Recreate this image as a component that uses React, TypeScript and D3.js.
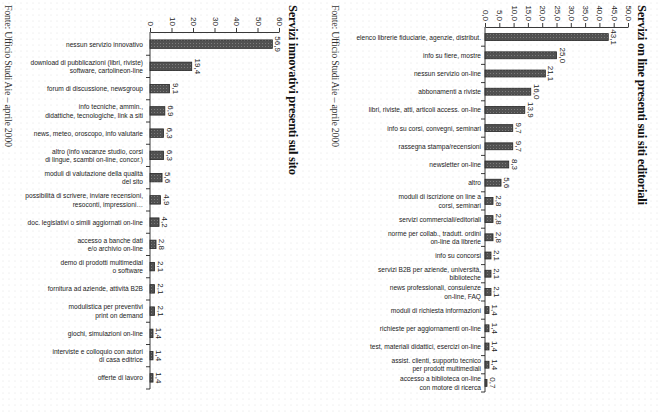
import React, { useRef, useEffect } from "react";
import * as d3 from "d3";

// --- data ---
const sourceText = "Fonte: Ufficio Studi Aie \u2013 aprile 2000";

const leftTitle = "Servizi innovativi presenti sul sito";
const leftCategories = [
  "nessun servizio innovativo",
  "download di pubblicazioni (libri, riviste)\nsoftware, cartolineon-line",
  "forum di discussione, newsgroup",
  "info tecniche, ammin.,\ndidattiche, tecnologiche, link a siti",
  "news, meteo, oroscopo, info valutarie",
  "altro (info vacanze studio, corsi\ndi lingue, scambi on-line, concor.)",
  "moduli di valutazione della qualità\ndel sito",
  "possibilità di scrivere, inviare recensioni,\nresoconti, impressioni\u2026",
  "doc. legislativi o simili aggiornati on-line",
  "accesso a banche dati\ne/o archivio on-line",
  "demo di prodotti multimedial\no software",
  "fornitura ad aziende, attività B2B",
  "modulistica per preventivi\nprint on demand",
  "giochi, simulazioni on-line",
  "interviste e colloquio con autori\ndi casa editrice",
  "offerte di lavoro",
];
const leftValues = [56.9, 19.4, 9.1, 6.9, 6.3, 6.3, 5.6, 4.9, 4.2, 2.8, 2.1, 2.1, 2.1, 1.4, 1.4, 1.4];
const leftTicks = [0, 10, 20, 30, 40, 50, 60];

const rightTitle = "Servizi on line presenti sui siti editoriali";
const rightCategories = [
  "elenco librerie fiduciarie, agenzie, distribut.",
  "info su fiere, mostre",
  "nessun servizio on-line",
  "abbonamenti a riviste",
  "libri, riviste, atti, articoli access. on-line",
  "info su corsi, convegni, seminari",
  "rassegna stampa/recensioni",
  "newsletter on-line",
  "altro",
  "moduli di iscrizione on line a\ncorsi, seminari",
  "servizi commerciali/editoriali",
  "norme per collab., tradutt. ordini\non-line da librerie",
  "info su concorsi",
  "servizi B2B per aziende, università,\nbiblioteche",
  "news professionali, consulenze\non-line, FAQ",
  "moduli di richiesta informazioni",
  "richieste per aggiornamenti on-line",
  "test, materiali didattici, esercizi on-line",
  "assist. clienti, supporto tecnico\nper prodott multimediali",
  "accesso a biblioteca on-line\ncon motore di ricerca",
];
const rightValues = [43.1, 25.0, 21.1, 16.0, 13.9, 9.7, 9.7, 8.3, 5.6, 2.8, 2.8, 2.8, 2.1, 2.1, 2.1, 1.4, 1.4, 1.4, 1.4, 0.7];
const rightTicks = [0, 5, 10, 15, 20, 25, 30, 35, 40, 45, 50];

const W = 659;
const H = 416;

const it = d3.formatLocale({ decimal: ",", thousands: ".", grouping: [3], currency: ["", " €"] });
const fmt1 = it.format(".1f");
const fmt0 = it.format("d");

interface Layout {
  x0: number;
  x1: number;
  axisY: number;
  bandTop: number;
  bandBottom: number;
  titleX: number;
  titleLen: number;
  sourceX: number;
  labelGap: number;
  lineH: number;
}

function drawChart(
  root: d3.Selection<SVGGElement, unknown, null, undefined>,
  title: string,
  cats: string[],
  values: number[],
  ticks: number[],
  tickFmt: (n: number) => string,
  L: Layout
) {
  const x = d3.scaleLinear().domain([ticks[0], ticks[ticks.length - 1]]).range([L.x0, L.x1]);
  const y = d3
    .scaleBand<number>()
    .domain(d3.range(cats.length))
    .range([L.bandTop, L.bandBottom])
    .paddingInner(0.62)
    .paddingOuter(0.31);

  const g = root.append("g");

  // top value axis, labels turned like the rest of the page
  const ax = g
    .append("g")
    .attr("transform", `translate(0,${L.axisY})`)
    .call(
      d3.axisTop(x).tickValues(ticks).tickSize(4).tickSizeOuter(0).tickFormat((d) => tickFmt(d as number))
    );
  ax.select(".domain").attr("stroke", "#222").attr("stroke-width", 0.9);
  ax.selectAll(".tick line").attr("stroke", "#222").attr("stroke-width", 0.9);
  ax.selectAll<SVGTextElement, number>(".tick text")
    .attr("y", null)
    .attr("dy", null)
    .attr("transform", "translate(0,-6) rotate(90)")
    .attr("text-anchor", "end")
    .attr("dominant-baseline", "central")
    .attr("font-family", "'Liberation Sans', Arial, sans-serif")
    .attr("font-size", 8)
    .attr("fill", "#222");

  // category axis
  g.append("line")
    .attr("x1", L.x0)
    .attr("x2", L.x0)
    .attr("y1", L.axisY)
    .attr("y2", L.bandBottom)
    .attr("stroke", "#222")
    .attr("stroke-width", 0.9);

  const step = y.step();
  g.selectAll("line.ctick")
    .data(d3.range(1, cats.length + 1))
    .join("line")
    .attr("class", "ctick")
    .attr("x1", L.x0 - 4)
    .attr("x2", L.x0)
    .attr("y1", (i) => L.bandTop + step * i)
    .attr("y2", (i) => L.bandTop + step * i)
    .attr("stroke", "#222")
    .attr("stroke-width", 0.9);

  // bars
  g.selectAll("rect.bar")
    .data(values)
    .join("rect")
    .attr("class", "bar")
    .attr("x", x(0))
    .attr("y", (_, i) => y(i)!)
    .attr("width", (d) => x(d) - x(0))
    .attr("height", y.bandwidth())
    .attr("fill", "url(#barPat)")
    .attr("stroke", "#262626")
    .attr("stroke-width", 0.8);

  // value labels
  g.selectAll("text.val")
    .data(values)
    .join("text")
    .attr("class", "val")
    .attr("transform", (d, i) => `translate(${x(d) + 3},${y(i)! + y.bandwidth() / 2}) rotate(90)`)
    .attr("text-anchor", "middle")
    .attr("font-family", "'Liberation Sans', Arial, sans-serif")
    .attr("font-size", 8)
    .attr("fill", "#222")
    .text((d) => fmt1(d));

  // category labels (horizontal)
  const lab = g
    .selectAll("text.cat")
    .data(cats)
    .join("text")
    .attr("class", "cat")
    .attr("text-anchor", "end")
    .attr("font-family", "'Liberation Sans', Arial, sans-serif")
    .attr("font-size", 6.6)
    .attr("fill", "#222");
  lab.each(function (d, i) {
    const lines = d.split("\n");
    const cy = y(i)! + y.bandwidth() / 2;
    const first = cy - ((lines.length - 1) * L.lineH) / 2;
    d3.select(this)
      .selectAll("tspan")
      .data(lines)
      .join("tspan")
      .attr("x", L.x0 - L.labelGap)
      .attr("y", (_, k) => first + k * L.lineH)
      .attr("dominant-baseline", "central")
      .text((t) => t);
  });

  // title and source, turned 90 degrees
  g.append("text")
    .attr("transform", `translate(${L.titleX},5) rotate(90)`)
    .attr("dominant-baseline", "central")
    .attr("font-family", "'Liberation Serif', 'Times New Roman', serif")
    .attr("font-weight", "bold")
    .attr("font-size", 12.5)
    .attr("fill", "#111")
    .attr("textLength", L.titleLen)
    .attr("lengthAdjust", "spacing")
    .text(title);

  g.append("text")
    .attr("transform", `translate(${L.sourceX},5) rotate(90)`)
    .attr("dominant-baseline", "central")
    .attr("font-family", "'Liberation Serif', 'Times New Roman', serif")
    .attr("font-size", 10)
    .attr("fill", "#333")
    .attr("textLength", 142)
    .attr("lengthAdjust", "spacing")
    .text(sourceText);
}

export default function App() {
  const svgRef = useRef<SVGSVGElement>(null);

  useEffect(() => {
    if (!svgRef.current) return;
    const svg = d3.select(svgRef.current);
    svg.selectAll("*").remove();

    const defs = svg.append("defs");
    const bg = defs
      .append("pattern")
      .attr("id", "bgDots")
      .attr("width", 6)
      .attr("height", 6)
      .attr("patternUnits", "userSpaceOnUse");
    bg.append("rect").attr("width", 6).attr("height", 6).attr("fill", "#fff");
    bg.append("circle").attr("cx", 3).attr("cy", 3).attr("r", 0.5).attr("fill", "#dedede");

    const bp = defs
      .append("pattern")
      .attr("id", "barPat")
      .attr("width", 3)
      .attr("height", 3)
      .attr("patternUnits", "userSpaceOnUse");
    bp.append("rect").attr("width", 3).attr("height", 3).attr("fill", "#515151");
    bp.append("rect").attr("x", 1).attr("y", 1).attr("width", 1).attr("height", 1).attr("fill", "#7c7c7c");

    svg.append("rect").attr("width", W).attr("height", H).attr("fill", "url(#bgDots)");

    const root = svg.append("g");

    drawChart(root, leftTitle, leftCategories, leftValues, leftTicks, (n) => fmt0(n), {
      x0: 150,
      x1: 279,
      axisY: 32,
      bandTop: 33,
      bandBottom: 389,
      titleX: 293,
      titleLen: 170,
      sourceX: 8,
      labelGap: 7,
      lineH: 8.6,
    });

    drawChart(root, rightTitle, rightCategories, rightValues, rightTicks, (n) => fmt1(n), {
      x0: 485,
      x1: 628,
      axisY: 27,
      bandTop: 28,
      bandBottom: 392,
      titleX: 642,
      titleLen: 200,
      sourceX: 335,
      labelGap: 4,
      lineH: 8.3,
    });
  }, []);

  return (
    <>
      <style>{`body{margin:0}`}</style>
      <svg ref={svgRef} width={W} height={H} viewBox={`0 0 ${W} ${H}`} style={{ display: "block" }} />
    </>
  );
}
